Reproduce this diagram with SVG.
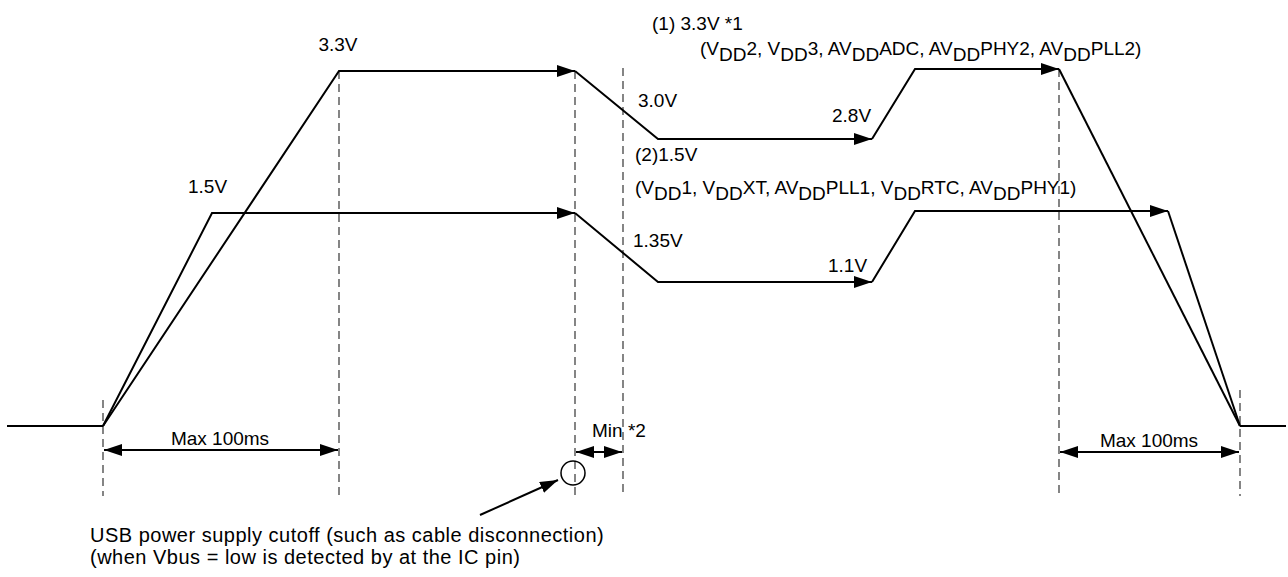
<svg xmlns="http://www.w3.org/2000/svg" width="1288" height="577" viewBox="0 0 1288 577">
<style>
text{font-family:"Liberation Sans",Arial,sans-serif;font-size:19px;fill:#000}
.note{font-size:20px;letter-spacing:0.5px}
.w{fill:none;stroke:#000;stroke-width:2;stroke-linejoin:miter}
.d{fill:none;stroke:#444;stroke-width:1.3;stroke-dasharray:8,5}
.dim{fill:none;stroke:#000;stroke-width:2}
</style>
<defs>
<marker id="ah" markerUnits="userSpaceOnUse" markerWidth="18" markerHeight="12" refX="18" refY="6" orient="auto"><path d="M0,0 L18,6 L0,12 z" fill="#000"/></marker>
<marker id="dh" markerUnits="userSpaceOnUse" markerWidth="18" markerHeight="12" refX="18" refY="6" orient="auto-start-reverse"><path d="M0,0 L18,6 L0,12 z" fill="#000"/></marker>
</defs>
<g id="guides">
<line class="d" x1="103" y1="400" x2="103" y2="496"/>
<line class="d" x1="339" y1="71" x2="339" y2="496"/>
<line class="d" x1="575" y1="71" x2="575" y2="496"/>
<line class="d" x1="623" y1="68" x2="623" y2="496"/>
<line class="d" x1="1059" y1="69" x2="1059" y2="496"/>
<line class="d" x1="1240" y1="390" x2="1240" y2="496"/>
</g>
<g id="baseline">
<line class="w" x1="7" y1="426" x2="103" y2="426"/>
<line class="w" x1="1240" y1="426" x2="1286" y2="426"/>
</g>
<g id="wave-3v3">
<path class="w" d="M103,426 L339,71 L575,71" marker-end="url(#ah)"/>
<path class="w" d="M575,71 L658,139 L872,139" marker-end="url(#ah)"/>
<path class="w" d="M872,139 L915,69 L1059,69" marker-end="url(#ah)"/>
<path class="w" d="M1059,69 L1240,426"/>
</g>
<g id="wave-1v5">
<path class="w" d="M103,426 L212,213 L575,213" marker-end="url(#ah)"/>
<path class="w" d="M575,213 L658,282 L872,282" marker-end="url(#ah)"/>
<path class="w" d="M872,282 L915,211 L1168,211" marker-end="url(#ah)"/>
<path class="w" d="M1168,211 L1240,426"/>
</g>
<g id="dimensions">
<line class="dim" x1="104" y1="450" x2="338" y2="450" marker-start="url(#dh)" marker-end="url(#dh)"/>
<text x="220" y="445" text-anchor="middle">Max 100ms</text>
<line class="dim" x1="576" y1="452" x2="622" y2="452" marker-start="url(#dh)" marker-end="url(#dh)"/>
<text x="592" y="437">Min *2</text>
<line class="dim" x1="1060" y1="452" x2="1239" y2="452" marker-start="url(#dh)" marker-end="url(#dh)"/>
<text x="1149" y="447" text-anchor="middle">Max 100ms</text>
</g>
<g id="cutoff">
<circle cx="573" cy="473" r="12" fill="none" stroke="#000" stroke-width="1.5"/>
<line class="dim" x1="480" y1="515" x2="558" y2="480" marker-end="url(#ah)"/>
<text class="note" x="90" y="542">USB power supply cutoff (such as cable disconnection)</text>
<text class="note" x="90" y="564">(when Vbus = low is detected by at the IC pin)</text>
</g>
<g id="labels">
<text x="338" y="51" text-anchor="middle">3.3V</text>
<text x="188" y="193">1.5V</text>
<text x="652" y="30">(1) 3.3V *1</text>
<text x="700" y="55">(V<tspan dy="6">DD</tspan><tspan dy="-6">2, V</tspan><tspan dy="6">DD</tspan><tspan dy="-6">3, AV</tspan><tspan dy="6">DD</tspan><tspan dy="-6">ADC, AV</tspan><tspan dy="6">DD</tspan><tspan dy="-6">PHY2, AV</tspan><tspan dy="6">DD</tspan><tspan dy="-6">PLL2)</tspan></text>
<text x="638" y="107">3.0V</text>
<text x="832" y="122">2.8V</text>
<text x="635" y="161">(2)1.5V</text>
<text x="635" y="194">(V<tspan dy="6">DD</tspan><tspan dy="-6">1, V</tspan><tspan dy="6">DD</tspan><tspan dy="-6">XT, AV</tspan><tspan dy="6">DD</tspan><tspan dy="-6">PLL1, V</tspan><tspan dy="6">DD</tspan><tspan dy="-6">RTC, AV</tspan><tspan dy="6">DD</tspan><tspan dy="-6">PHY1)</tspan></text>
<text x="633" y="247">1.35V</text>
<text x="828" y="272">1.1V</text>
</g>
</svg>
